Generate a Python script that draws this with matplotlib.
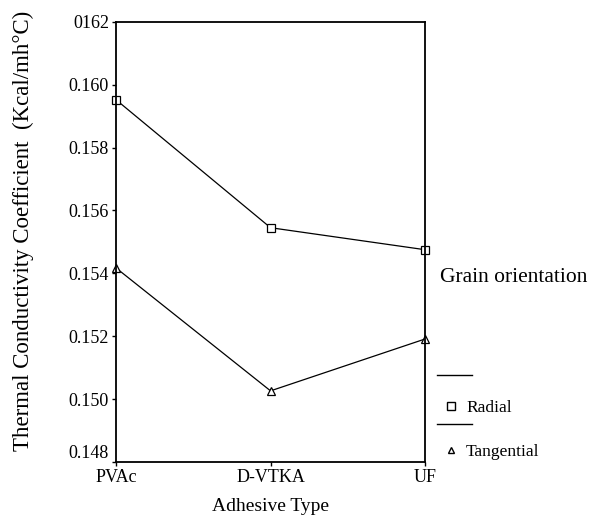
import matplotlib.pyplot as plt
from matplotlib.lines import Line2D

# data
adhesives = ["PVAc", "D-VTKA", "UF"]
radial = [0.15952, 0.15545, 0.15475]
tangential = [0.15417, 0.15026, 0.15191]
y_ticks = [0.148, 0.150, 0.152, 0.154, 0.156, 0.158, 0.160, 0.162]
y_tick_labels = ["0.148", "0.150", "0.152", "0.154", "0.156", "0.158", "0.160", "0162"]

plt.rcParams['font.family'] = ['Liberation Serif', 'DejaVu Serif']

fig = plt.figure(figsize=(5.92, 5.19), dpi=100)
ax = fig.add_axes([0.196, 0.110, 0.522, 0.848])

x = range(len(adhesives))
ax.plot(x, radial, color='black', lw=0.9, marker='s', ms=6,
        markerfacecolor='white', markeredgecolor='black', mew=0.9, clip_on=False)
ax.plot(x, tangential, color='black', lw=0.9, marker='^', ms=6,
        markerfacecolor='white', markeredgecolor='black', mew=0.9, clip_on=False)

ax.set_xlim(0, 2)
ax.set_ylim(0.148, 0.162)
ax.set_xticks(list(x))
ax.set_xticklabels(adhesives, fontsize=13)
ax.set_yticks(y_ticks)
ax.set_yticklabels(y_tick_labels, fontsize=13)
ax.get_yticklabels()[0].set_va('bottom')
ax.tick_params(axis='both', length=3, width=1, direction='out', pad=2)
for s in ax.spines.values():
    s.set_linewidth(1.3)

ax.set_xlabel("Adhesive Type", fontsize=14)
ax.xaxis.set_label_coords(0.5, -0.083)
ax.set_ylabel("Thermal Conductivity Coefficient  (Kcal/mh°C)", fontsize=16.5)
ax.yaxis.set_label_coords(-0.266, 0.524)

# legend outside, on the right
fig.text(0.744, 0.465, "Grain orientation", fontsize=15.5, va='center')
handles = [Line2D([], [], color='black', marker='s', ms=6, markerfacecolor='white', lw=0),
           Line2D([], [], color='black', marker='^', ms=5, markerfacecolor='white', lw=0)]
fig.legend(handles, ["Radial", "Tangential"], loc='center left',
           bbox_to_anchor=(0.717, 0.172), frameon=False, fontsize=12.5,
           handlelength=1.2, handletextpad=0.3, labelspacing=1.6)
fig.add_artist(Line2D([0.738, 0.797], [0.277, 0.277], color='black', lw=1))
fig.add_artist(Line2D([0.738, 0.797], [0.183, 0.183], color='black', lw=1))

fig.savefig("out.png", dpi=100)
